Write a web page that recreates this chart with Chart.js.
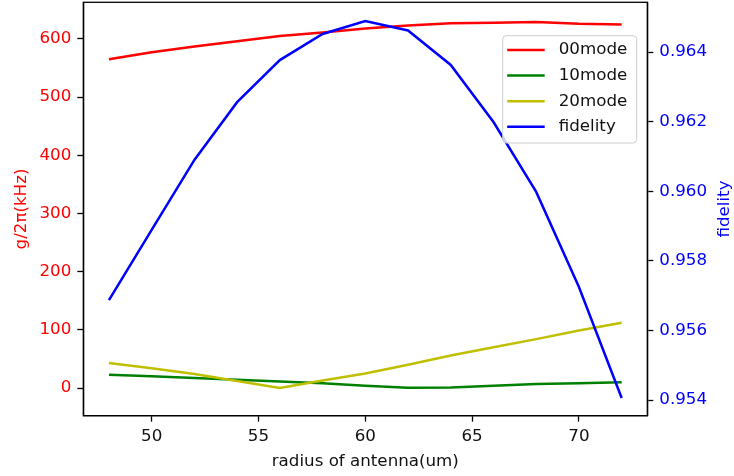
<!DOCTYPE html>
<html>
<head>
<meta charset="utf-8">
<script src="https://cdn.jsdelivr.net/npm/chart.js@4"></script>
<style>
  html, body { margin: 0; padding: 0; background: #fff; }
  #wrap { width: 734px; height: 476px; position: relative; }
</style>
</head>
<body>
<div id="wrap"><canvas id="c"></canvas></div>
<script>
// 天线半径 (um)
const radius = [48, 50, 52, 54, 56, 58, 60, 62, 64, 66, 68, 70, 72];
// 耦合强度 g/2π (kHz)
const mode00 = [565, 577, 587, 596, 605, 611, 618, 623, 627, 628, 629, 626, 625];
const mode10 = [23, 20, 17, 14, 11, 8, 4, 0.5, 1, 4, 7, 8, 10];
const mode20 = [43, 34, 24, 12, 0, 13, 25, 40, 56, 70, 84, 99, 112];
// 保真度
const fidelity = [0.95687, 0.95889, 0.96090, 0.96256, 0.96377, 0.96452, 0.96489,
                  0.96462, 0.96363, 0.96199, 0.95998, 0.95725, 0.95406];

const xTicks = [50, 55, 60, 65, 70];
const gTicks = [0, 100, 200, 300, 400, 500, 600];
const fTicks = [0.954, 0.956, 0.958, 0.960, 0.962, 0.964];

const FONT = { family: "'DejaVu Sans', sans-serif", size: 16.7 };

function pts(ys) {
    return radius.map((r, i) => ({ x: r, y: ys[i] }));
}

function setTicks(list) {
    return scale => { scale.ticks = list.map(v => ({ value: v })); };
}

// 固定轴的尺寸，去掉标签带来的额外留白
function fixSize(w, h) {
    return s => {
        if (w !== null) s.width = w;
        if (h !== null) s.height = h;
        s.paddingTop = 0;
        s.paddingBottom = 0;
        s.paddingLeft = 0;
        s.paddingRight = 0;
    };
}

// 外框 + 图例 + 右侧轴标题
const decoPlugin = {
    id: "deco",
    afterDraw(chart) {
        const ctx = chart.ctx;
        const a = chart.chartArea;
        ctx.save();
        ctx.strokeStyle = "#000";
        ctx.lineWidth = 1.3;
        ctx.strokeRect(a.left, a.top, a.right - a.left, a.bottom - a.top);

        // 图例
        const bx = a.right - 144.6, by = a.top + 33.4, bw = 134, bh = 107.3;
        ctx.beginPath();
        ctx.roundRect(bx, by, bw, bh, 3.5);
        ctx.fillStyle = "rgba(255,255,255,0.8)";
        ctx.fill();
        ctx.strokeStyle = "#cccccc";
        ctx.lineWidth = 1;
        ctx.stroke();
        ctx.font = FONT.size + "px " + FONT.family;
        ctx.textBaseline = "middle";
        ctx.textAlign = "left";
        chart.data.datasets.forEach((ds, i) => {
            const y = by + 14.3 + i * 25.6;
            ctx.beginPath();
            ctx.moveTo(bx + 4.5, y);
            ctx.lineTo(bx + 42, y);
            ctx.strokeStyle = ds.borderColor;
            ctx.lineWidth = 2.5;
            ctx.stroke();
            ctx.fillStyle = "#111";
            ctx.fillText(ds.label, bx + 56, y);
        });

        // 右轴标题 (自下而上)
        ctx.translate(724.3, (a.top + a.bottom) / 2);
        ctx.rotate(-Math.PI / 2);
        ctx.textAlign = "center";
        ctx.fillStyle = "#0000ff";
        ctx.fillText("fidelity", 0, 0);
        ctx.restore();
    }
};

const ctx = document.getElementById("c").getContext("2d");
new Chart(ctx, {
    type: "line",
    data: {
        datasets: [
            { label: "00mode", data: pts(mode00), borderColor: "#ff0000", yAxisID: "y", order: 4 },
            { label: "10mode", data: pts(mode10), borderColor: "#008000", yAxisID: "y", order: 3 },
            { label: "20mode", data: pts(mode20), borderColor: "#bfbf00", yAxisID: "y", order: 2 },
            { label: "fidelity", data: pts(fidelity), borderColor: "#0000ff", yAxisID: "y1", order: 1 }
        ]
    },
    options: {
        responsive: true,
        maintainAspectRatio: false,
        animation: false,
        events: [],
        layout: { padding: { top: 2.3, left: 0, right: 0, bottom: 0 } },
        elements: {
            line: { borderWidth: 2.5, tension: 0, fill: false },
            point: { radius: 0 }
        },
        plugins: { legend: { display: false }, tooltip: { enabled: false } },
        scales: {
            x: {
                type: "linear",
                position: "bottom",
                min: 46.8,
                max: 73.2,
                afterBuildTicks: setTicks(xTicks),
                afterFit: fixSize(null, 60.3),
                grid: { drawOnChartArea: false, drawTicks: true, tickLength: 6, tickColor: "#000", tickWidth: 1.3 },
                border: { display: true, color: "#000", width: 1.3 },
                ticks: { color: "#111", font: FONT, padding: 5, maxRotation: 0 },
                title: { display: true, text: "radius of antenna(um)", color: "#111", font: FONT, padding: 4 }
            },
            y: {
                type: "linear",
                position: "left",
                min: -47.6,
                max: 663,
                afterBuildTicks: setTicks(gTicks),
                afterFit: fixSize(83.3, null),
                grid: { drawOnChartArea: false, drawTicks: true, tickLength: 6, tickColor: "#000", tickWidth: 1.3 },
                border: { display: true, color: "#000", width: 1.3 },
                ticks: { color: "#ff0000", font: FONT, padding: 6 },
                title: { display: true, text: "g/2π(kHz)", color: "#ff0000", font: FONT, padding: { top: 11.5, bottom: 0 } }
            },
            y1: {
                type: "linear",
                position: "right",
                min: 0.95355,
                max: 0.96543,
                afterBuildTicks: setTicks(fTicks),
                afterFit: fixSize(86.7, null),
                grid: { drawOnChartArea: false, drawTicks: true, tickLength: 6, tickColor: "#000", tickWidth: 1.3 },
                border: { display: true, color: "#000", width: 1.3 },
                ticks: { color: "#0000ff", font: FONT, padding: 6, callback: v => v.toFixed(3) }
            }
        }
    },
    plugins: [decoPlugin]
});
</script>
</body>
</html>
